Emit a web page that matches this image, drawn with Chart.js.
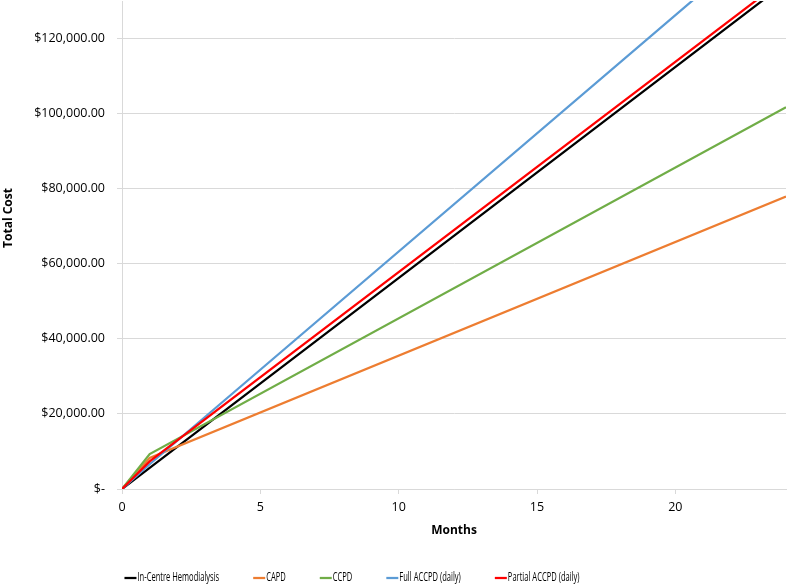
<!DOCTYPE html>
<html>
<head>
<meta charset="utf-8">
<script src="https://cdn.jsdelivr.net/npm/chart.js@4/dist/chart.umd.min.js"></script>
<style>
  html, body { margin: 0; padding: 0; background: #fff; }
  #wrap { width: 788px; height: 586px; }
</style>
</head>
<body>
<div id="wrap"><canvas id="costChart" width="788" height="586"></canvas></div>
<script>
// Months at which the values were read
const months = [0, 1, 24];

// Total cost per series
const hemodialysis = [0, 5620, 134900];
const capd = [0, 8250, 77900];
const ccpd = [0, 9320, 101700];
const fullAccpd = [0, 6600, 151400];
const partialAccpd = [0, 7350, 136200];

const seriesNames = ['In-Centre Hemodialysis', 'CAPD', 'CCPD', 'Full ACCPD (daily)', 'Partial ACCPD (daily)'];
const seriesColors = ['#000000', '#ED7D31', '#70AD47', '#5B9BD5', '#FF0000'];

const xTicks = [0, 5, 10, 15, 20];
const yTicks = [0, 20000, 40000, 60000, 80000, 100000, 120000];

const toPoints = vals => vals.map((v, i) => ({ x: months[i], y: v }));
const allSeries = [hemodialysis, capd, ccpd, fullAccpd, partialAccpd];

const datasets = allSeries.map((vals, i) => ({
    label: seriesNames[i],
    data: toPoints(vals),
    borderColor: seriesColors[i],
    backgroundColor: seriesColors[i],
    borderWidth: 2.25,
    pointRadius: 0,
    tension: 0,
    order: allSeries.length - i // later series on top, like Excel
}));

// Legend at the bottom (condensed text like the original) and the y title
const extras = {
    id: 'extras',
    afterDraw(chart) {
        const ctx = chart.ctx;
        ctx.save();
        // y axis title, sits a bit above the middle of the plot
        ctx.font = "bold 12px 'Open Sans', sans-serif";
        ctx.fillStyle = '#000';
        ctx.textAlign = 'center';
        ctx.textBaseline = 'middle';
        ctx.translate(9, 218);
        ctx.rotate(-Math.PI / 2);
        ctx.fillText('Total Cost', 0, 0);
        ctx.restore();

        ctx.save();
        ctx.font = "12px 'Open Sans', sans-serif";
        ctx.textBaseline = 'middle';
        const squeeze = 0.63, lineLen = 12, textGap = 1, itemGap = 34, y = 578;
        const widths = seriesNames.map(n => lineLen + textGap + ctx.measureText(n).width * squeeze);
        const total = widths.reduce((a, b) => a + b, 0) + itemGap * (widths.length - 1);
        let x = 352 - total / 2;
        seriesNames.forEach((name, i) => {
            ctx.strokeStyle = seriesColors[i];
            ctx.lineWidth = 2.25;
            ctx.beginPath();
            ctx.moveTo(x, y);
            ctx.lineTo(x + lineLen, y);
            ctx.stroke();
            ctx.save();
            ctx.translate(x + lineLen + textGap, y);
            ctx.scale(squeeze, 1);
            ctx.fillStyle = '#000';
            ctx.fillText(name, 0, 0);
            ctx.restore();
            x += widths[i] + itemGap;
        });
        ctx.restore();
    }
};

const tickFont = { family: "'Open Sans', sans-serif", size: 12.5 };
const titleFont = { family: "'Open Sans', sans-serif", size: 12, weight: 'bold' };

new Chart(document.getElementById('costChart'), {
    type: 'line',
    data: { datasets },
    plugins: [extras],
    options: {
        responsive: false,
        animation: false,
        layout: { padding: { top: 1, right: 2, bottom: 44, left: 0 } },
        plugins: { legend: { display: false }, tooltip: { enabled: false } },
        scales: {
            x: {
                type: 'linear',
                min: 0,
                max: 24,
                afterBuildTicks: s => { s.ticks = xTicks.map(v => ({ value: v })); },
                afterFit: s => { s.height = 53; s.paddingLeft = 0; s.paddingRight = 0; },
                grid: { drawOnChartArea: false, color: '#d9d9d9', tickLength: 5 },
                border: { color: '#d9d9d9' },
                ticks: { color: '#000', font: tickFont, padding: 6, maxRotation: 0 },
                title: { display: true, text: 'Months', color: '#000', font: titleFont, padding: { top: 4, bottom: 4 } }
            },
            y: {
                min: 0,
                max: 130000,
                afterBuildTicks: s => { s.ticks = yTicks.map(v => ({ value: v })); },
                afterFit: s => { s.width = 122; s.paddingTop = 0; s.paddingBottom = 0; },
                grid: { color: '#d9d9d9', tickLength: 5 },
                border: { color: '#d9d9d9' },
                ticks: {
                    color: '#000',
                    font: tickFont,
                    padding: 12,
                    callback: v => v === 0 ? '$-' : '$' + v.toLocaleString('en-US', { minimumFractionDigits: 2 })
                }
            }
        }
    }
});
</script>
</body>
</html>
